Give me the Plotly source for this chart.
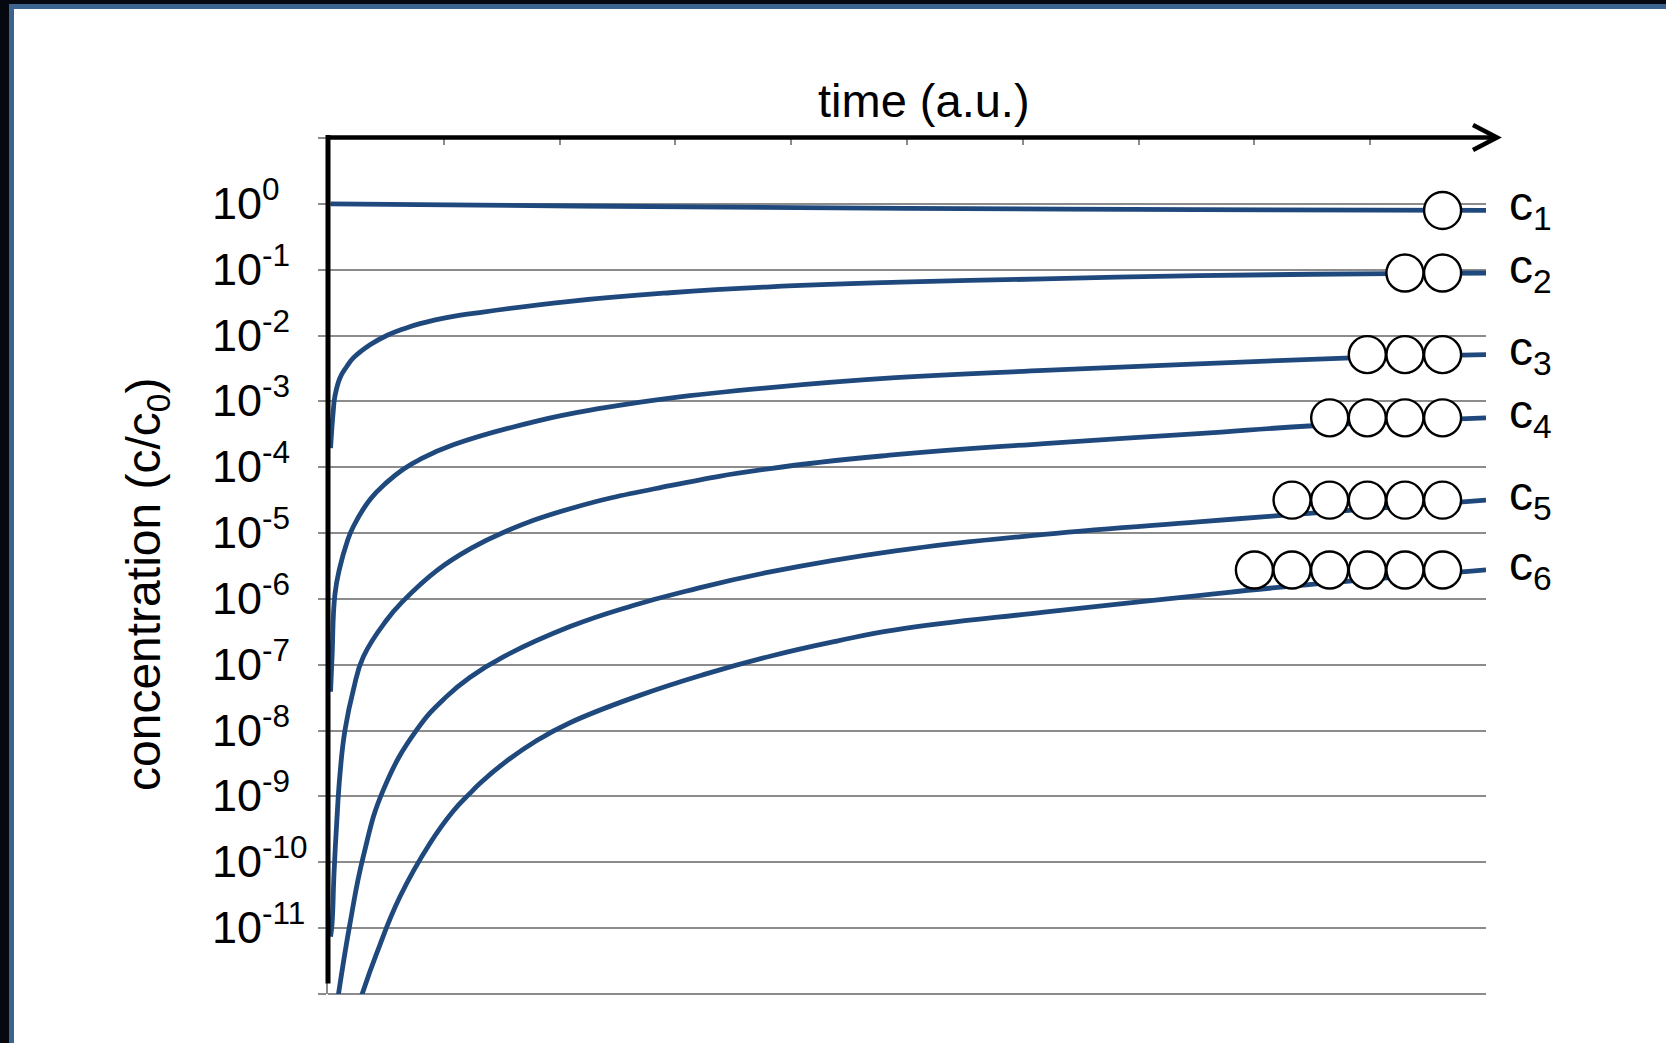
import plotly.graph_objects as go

# ---------------- data ----------------
# time in arbitrary units, concentrations as log10(c/c0)
t_c1 = [0.022, 1.3, 5.0, 7.5, 10.0]
c1_log = [0.0, -0.02, -0.07, -0.087, -0.10]

t_c2 = [0.022, 0.046, 0.060, 0.104, 0.162, 0.219, 0.363, 0.507, 0.650, 0.795,
        1.082, 1.27, 2.09, 2.954, 3.818, 4.94, 6.185, 7.515, 9.17, 10.0]
c2_log = [-3.71, -3.13, -2.92, -2.64, -2.47, -2.34, -2.14, -2.00, -1.90, -1.82,
          -1.71, -1.66, -1.48, -1.35, -1.26, -1.19, -1.14, -1.09, -1.06, -1.05]

t_c3 = [0.022, 0.035, 0.060, 0.104, 0.162, 0.219, 0.363, 0.507, 0.650, 0.795,
        1.082, 1.803, 2.378, 2.954, 3.818, 4.90, 6.185, 7.515, 8.84, 10.0]
c3_log = [-7.41, -6.88, -5.93, -5.51, -5.15, -4.90, -4.49, -4.23, -4.03, -3.88,
          -3.66, -3.30, -3.10, -2.95, -2.79, -2.64, -2.53, -2.43, -2.34, -2.29]

t_c4 = [0.022, 0.035, 0.052, 0.075, 0.104, 0.147, 0.219, 0.305, 0.507, 0.650,
        0.939, 1.227, 1.514, 2.09, 2.954, 3.818, 4.90, 6.185, 7.515, 8.508, 10.0]
c4_log = [-11.13, -10.93, -10.17, -9.41, -8.65, -7.99, -7.38, -6.88, -6.32, -6.03,
          -5.57, -5.24, -4.99, -4.63, -4.28, -4.02, -3.81, -3.64, -3.49, -3.37, -3.25]

t_c5 = [0.089, 0.19, 0.305, 0.478, 0.766, 1.025, 1.227, 1.514, 2.09, 2.635,
        3.098, 3.818, 4.90, 6.185, 7.515, 8.18, 10.0]
c5_log = [-12.02, -10.93, -9.91, -8.90, -7.99, -7.48, -7.19, -6.88, -6.42, -6.10,
          -5.88, -5.59, -5.27, -5.02, -4.83, -4.74, -4.50]

t_c6 = [0.291, 0.421, 0.622, 0.881, 1.082, 1.227, 1.313, 1.514, 1.803, 2.09,
        2.667, 3.242, 3.818, 4.394, 4.90, 6.185, 7.515, 8.18, 10.0]
c6_log = [-12.02, -11.38, -10.52, -9.71, -9.22, -8.95, -8.80, -8.50, -8.15, -7.88,
          -7.48, -7.15, -6.87, -6.64, -6.47, -6.20, -5.95, -5.83, -5.56]

series_t = [t_c1, t_c2, t_c3, t_c4, t_c5, t_c6]
series_log = [c1_log, c2_log, c3_log, c4_log, c5_log, c6_log]
series_names = ["c<sub>1</sub>", "c<sub>2</sub>", "c<sub>3</sub>",
                "c<sub>4</sub>", "c<sub>5</sub>", "c<sub>6</sub>"]

tick_exponents = [0, -1, -2, -3, -4, -5, -6, -7, -8, -9, -10, -11]
x_ticks = [0, 1, 2, 3, 4, 5, 6, 7, 8, 9, 10]

# ---------------- styling ----------------
FONT = "Liberation Sans, Arial, sans-serif"
LINE_BLUE = "#1F497D"
GRID = "#8c8c8c"
FRAME_BLUE = "#3d6491"
FRAME_DARK = "#06080f"

W, H = 1666, 1043
ML, MR, MT, MB = 328, 180, 138, 49
PW, PH = W - ML - MR, H - MT - MB


def px_x(p):  # pixel column -> paper x
    return (p - ML) / PW


def px_y(p):  # pixel row -> paper y
    return (H - MB - p) / PH


fig = go.Figure()

for t, lg in zip(series_t, series_log):
    fig.add_trace(go.Scatter(
        x=t, y=[10 ** v for v in lg], mode="lines",
        line=dict(color=LINE_BLUE, width=4.8, shape="spline", smoothing=1.3),
        hoverinfo="skip", showlegend=False, cliponaxis=True))

# molecule glyphs: k circles on the end of curve c_k
circle_right = 9.625
circle_step = 0.325
for k, lg in enumerate(series_log, start=1):
    xs = [circle_right - circle_step * i for i in range(k)]
    fig.add_trace(go.Scatter(
        x=xs, y=[10 ** lg[-1]] * k, mode="markers",
        marker=dict(symbol="circle", size=37, color="white",
                    line=dict(color="black", width=2.4)),
        hoverinfo="skip", showlegend=False, cliponaxis=False))

annotations = []
# y tick labels, left aligned
for e in tick_exponents:
    annotations.append(dict(
        xref="paper", yref="y", x=px_x(210), y=e, xanchor="left", yanchor="middle",
        text="10<sup>%d</sup>" % e,
        showarrow=False, font=dict(family=FONT, size=45, color="black"), yshift=4))

# curve labels
for name, lg in zip(series_names, series_log):
    annotations.append(dict(
        xref="paper", yref="y", x=px_x(1507), y=lg[-1], xanchor="left", yanchor="middle",
        text=name, showarrow=False, font=dict(family=FONT, size=48, color="black"),
        yshift=3))

# axis titles
annotations.append(dict(
    xref="paper", yref="paper", x=px_x(924), y=px_y(101), xanchor="center", yanchor="middle",
    text="time (a.u.)", showarrow=False, font=dict(family=FONT, size=47, color="black")))
annotations.append(dict(
    xref="paper", yref="paper", x=px_x(147), y=px_y(584), xanchor="center", yanchor="middle",
    text="concentration (c/c<sub>0</sub>)", textangle=-90, showarrow=False,
    font=dict(family=FONT, size=48, color="black")))

shapes = [
    # slide frame: white panel with blue edge on dark background
    dict(type="rect", xref="paper", yref="paper", layer="below",
         x0=px_x(11.5), x1=px_x(1720), y0=px_y(1100), y1=px_y(6.5),
         fillcolor="white", line=dict(color=FRAME_BLUE, width=5)),
    # bottom gridline (range edge)
    dict(type="line", xref="paper", yref="paper", layer="below",
         x0=0, x1=1, y0=0, y1=0, line=dict(color=GRID, width=1.8)),
    # black left axis
    dict(type="line", xref="paper", yref="paper", layer="above",
         x0=0, x1=0, y0=px_y(983.5), y1=px_y(135), line=dict(color="black", width=5)),
    # black top time axis with arrow
    dict(type="line", xref="paper", yref="paper", layer="above",
         x0=px_x(326), x1=px_x(1496), y0=px_y(137.5), y1=px_y(137.5),
         line=dict(color="black", width=4.5)),
    dict(type="path", xref="paper", yref="paper", layer="above",
         xsizemode="pixel", ysizemode="pixel", xanchor=px_x(1497), yanchor=px_y(137.5),
         path="M -24,12.5 L 0,0 L -24,-12.5",
         line=dict(color="black", width=4.5)),
]

fig.update_layout(
    width=W, height=H,
    margin=dict(l=ML, r=MR, t=MT, b=MB, pad=0),
    paper_bgcolor=FRAME_DARK, plot_bgcolor="white",
    font=dict(family=FONT, color="black"),
    xaxis=dict(range=[0, 10], side="top", showgrid=False, zeroline=False,
               showline=False, tickmode="array", tickvals=x_ticks, showticklabels=False,
               ticks="inside", ticklen=7, tickwidth=1.5, tickcolor=GRID),
    yaxis=dict(type="log", range=[-12, 1], showgrid=True, gridcolor=GRID, gridwidth=1.8,
               tickmode="array", tickvals=[10 ** e for e in range(-12, 2)],
               showticklabels=False, ticks="outside", ticklen=8, tickwidth=1.8,
               tickcolor=GRID, showline=True, linecolor=GRID, linewidth=1.5,
               zeroline=False),
    annotations=annotations, shapes=shapes, showlegend=False,
)

fig.write_html("out.html", config={"displayModeBar": False},
               post_script="document.body.style.margin='0';document.body.style.overflow='hidden';")
